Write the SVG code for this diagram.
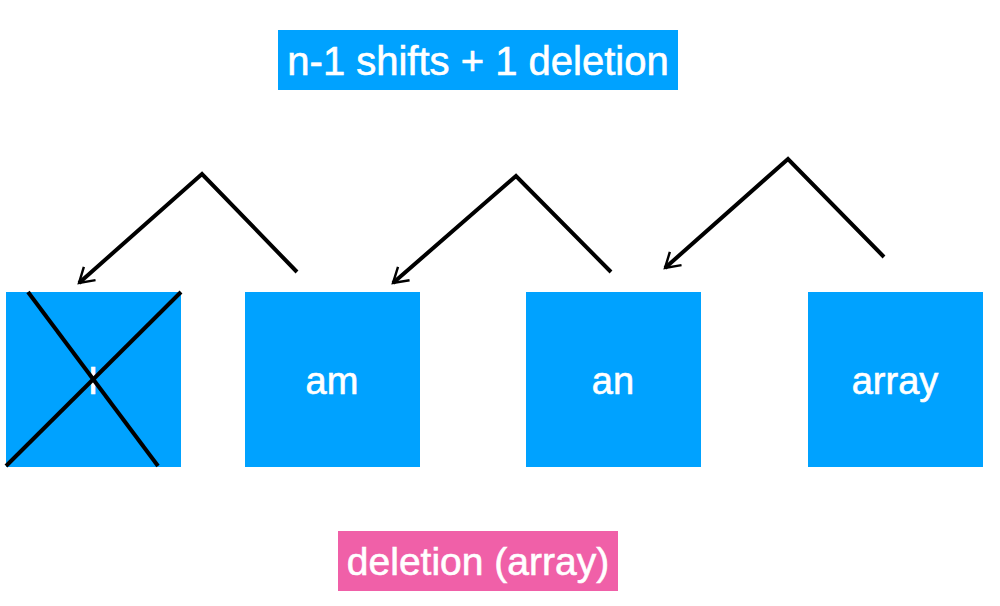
<svg xmlns="http://www.w3.org/2000/svg" width="1000" height="606" viewBox="0 0 1000 606">
<style>
.box{fill:#00A2FF}
.lbl{font-family:"Liberation Sans",Arial,sans-serif;fill:#fff;text-anchor:middle;stroke:#fff;stroke-width:0.6}
.t{font-size:40px}
.c{font-size:39px}
.n{font-size:38px}
.ln{stroke:#000;stroke-width:4;fill:none}
</style>
<defs>
<marker id="ah" viewBox="0 0 10 10" refX="8" refY="5" markerWidth="5.5" markerHeight="5.5" markerUnits="strokeWidth" orient="auto">
<path d="M1.5,1 L8,5 L1.5,9" fill="none" stroke="#000" stroke-width="1.1"/>
</marker>
</defs>
<rect width="1000" height="606" fill="#fff"/>
<g id="title">
<rect x="278" y="30" width="400" height="60" class="box"/>
<text x="478" y="75" class="lbl t">n-1 shifts + 1 deletion</text>
</g>
<g id="node-I">
<rect x="6" y="292" width="175" height="175" class="box"/>
<text x="93" y="394" class="lbl n">I</text>
</g>
<g id="node-am">
<rect x="245" y="292" width="175" height="175" class="box"/>
<text x="332" y="394" class="lbl n">am</text>
</g>
<g id="node-an">
<rect x="526" y="292" width="175" height="175" class="box"/>
<text x="613" y="394" class="lbl n">an</text>
</g>
<g id="node-array">
<rect x="808" y="292" width="175" height="175" class="box"/>
<text x="895" y="394" class="lbl n">array</text>
</g>
<g id="caption">
<rect x="338" y="531" width="280" height="60" fill="#F060A8"/>
<text x="478" y="575" class="lbl c">deletion (array)</text>
</g>
<g id="connectors">
<line x1="28" y1="292" x2="158" y2="466" class="ln"/>
<line x1="6" y1="466" x2="181" y2="292" class="ln"/>
<polyline points="297,272 202,174 79,283" class="ln" marker-end="url(#ah)"/>
<polyline points="611,272 516,176 393,283" class="ln" marker-end="url(#ah)"/>
<polyline points="884,257 788,159 665,268" class="ln" marker-end="url(#ah)"/>
</g>
</svg>
